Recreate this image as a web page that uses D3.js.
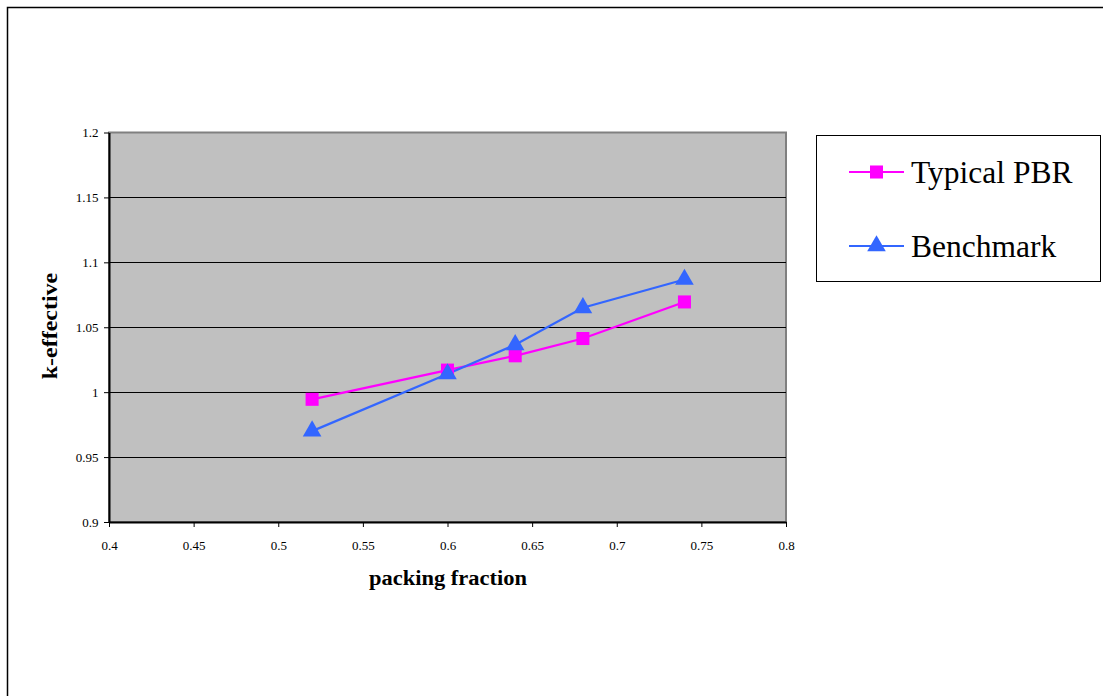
<!DOCTYPE html>
<html><head><meta charset="utf-8">
<script src="https://cdn.jsdelivr.net/npm/d3@7"></script>
<style>body{margin:0;background:#fff}svg{display:block}</style>
</head><body>
<svg id="c" width="1103" height="696"></svg>
<script>
const packingFraction = [0.52, 0.6, 0.64, 0.68, 0.74];
const typicalPBR = [0.9945, 1.017, 1.028, 1.0413, 1.0695];
const benchmark = [0.970, 1.014, 1.0365, 1.065, 1.0868];
const xTicks = [0.4, 0.45, 0.5, 0.55, 0.6, 0.65, 0.7, 0.75, 0.8];
const yTicks = [0.9, 0.95, 1, 1.05, 1.1, 1.15, 1.2];
const seriesNames = ["Typical PBR", "Benchmark"];

const svg = d3.select("#c");
const font = "'Liberation Serif','Times New Roman',serif";
// outer border
svg.append("rect").attr("x",7.5).attr("y",7.5).attr("width",1110).attr("height",700)
  .attr("fill","none").attr("stroke","#000").attr("stroke-width",1.5);

const L=109, R=786, T=132.5, B=522;
const x = d3.scaleLinear().domain([0.4,0.8]).range([L,R]);
const y = d3.scaleLinear().domain([0.9,1.2]).range([B,T]);

svg.append("rect").attr("x",L).attr("y",T).attr("width",R-L).attr("height",B-T)
  .attr("fill","#c0c0c0").attr("stroke","#808080").attr("stroke-width",2);

// gridlines
svg.append("g").selectAll("line").data(yTicks.filter(d=>d>0.9 && d<1.2)).join("line")
  .attr("x1",L).attr("x2",R).attr("y1",d=>Math.round(y(d))+0.5).attr("y2",d=>Math.round(y(d))+0.5)
  .attr("stroke","#000").attr("stroke-width",1);

// axes
const xAxis = svg.append("g").attr("transform",`translate(0,${B})`)
  .call(d3.axisBottom(x).tickValues(xTicks).tickSize(5).tickSizeOuter(0).tickFormat(d=>String(+d.toFixed(2))));
const yAxis = svg.append("g").attr("transform",`translate(${L},0)`)
  .call(d3.axisLeft(y).tickValues(yTicks).tickSize(5).tickSizeOuter(0).tickFormat(d=>String(+d.toFixed(2))));
[xAxis,yAxis].forEach(a=>{
  a.select(".domain").attr("stroke","#000").attr("stroke-width",2);
  a.selectAll(".tick line").attr("stroke","#000");
  a.selectAll("text").attr("font-family",font).attr("font-size",13).attr("fill","#000");
});
xAxis.selectAll("text").attr("dy","1.5em");
yAxis.selectAll("text").attr("dx","-0.2em");

// axis titles
svg.append("text").attr("transform","translate(448,585) scale(1.125,1)").attr("text-anchor","middle")
  .attr("font-family",font).attr("font-weight","bold").attr("font-size",20).text("packing fraction");
svg.append("text").attr("transform","translate(57,326) rotate(-90) scale(1.2,1)").attr("text-anchor","middle")
  .attr("font-family",font).attr("font-weight","bold").attr("font-size",20).text("k-effective");

const colors = ["#ff00ff","#3366ff"];
const data = [typicalPBR, benchmark];
const line = d3.line().x((d,i)=>x(packingFraction[i])).y(d=>y(d));
data.forEach((s,k)=>{
  svg.append("path").datum(s).attr("d",line).attr("fill","none")
    .attr("stroke",colors[k]).attr("stroke-width",2.2);
});
const sq = d3.symbol().type(d3.symbolSquare).size(170);
const tri = d3.symbol().type(d3.symbolTriangle).size(150);
svg.append("g").selectAll("path").data(typicalPBR).join("path")
  .attr("transform",(d,i)=>`translate(${x(packingFraction[i])},${y(d)})`).attr("d",sq).attr("fill",colors[0]);
svg.append("g").selectAll("path").data(benchmark).join("path")
  .attr("transform",(d,i)=>`translate(${x(packingFraction[i])},${y(d)})`).attr("d",tri).attr("fill",colors[1]);

// legend
svg.append("rect").attr("x",816.5).attr("y",135.5).attr("width",284).attr("height",146)
  .attr("fill","#fff").attr("stroke","#000").attr("stroke-width",1);
const ly = [172, 246];
seriesNames.forEach((n,k)=>{
  svg.append("line").attr("x1",849).attr("x2",904).attr("y1",ly[k]).attr("y2",ly[k])
    .attr("stroke",colors[k]).attr("stroke-width",2.2);
  svg.append("path").attr("transform",`translate(876.5,${ly[k]})`).attr("d",k===0?sq:tri).attr("fill",colors[k]);
  svg.append("text").attr("x",911).attr("y",ly[k]+11).attr("font-family",font).attr("font-size",31.5)
    .attr("fill","#000").text(n);
});
</script>
</body></html>
